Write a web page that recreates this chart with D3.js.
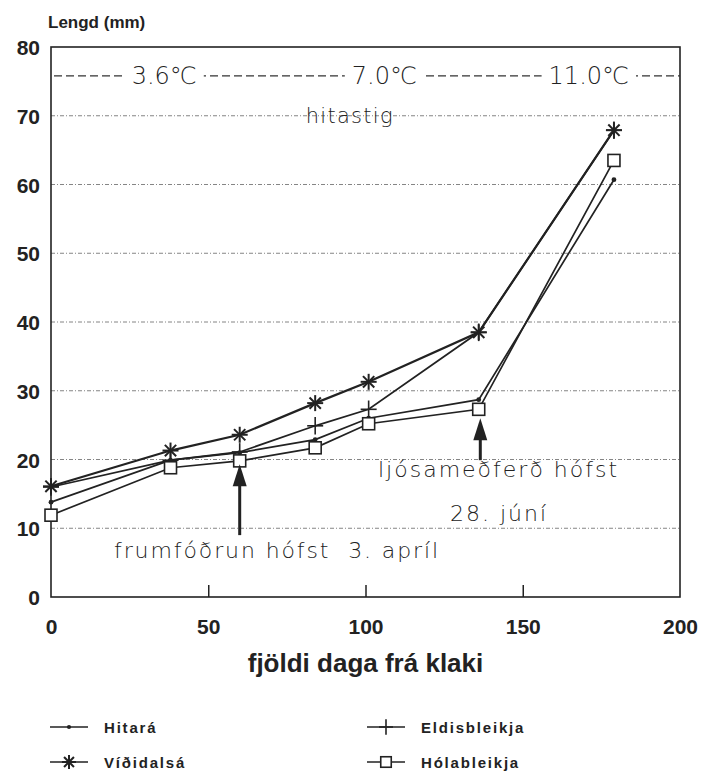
<!DOCTYPE html>
<html>
<head>
<meta charset="utf-8">
<script src="https://cdn.jsdelivr.net/npm/d3@7"></script>
<style>
body { margin:0; background:#fff; }
svg text { fill:#222; }
.bold { font-family:"Liberation Sans", Arial, sans-serif; font-weight:bold; }
.thin { font-family:"DejaVu Sans", sans-serif; font-weight:200; }
</style>
</head>
<body>
<svg id="chart" width="708" height="771"></svg>
<script>
// days from hatching
var days = [0, 38, 60, 84, 101, 136, 179];
var hitara = [13.8, 19.9, 21.0, 22.9, 26.0, 28.7, 60.7];
var vididalsa = [16.1, 21.3, 23.6, 28.2, 31.3, 38.5, 67.9];
var eldisbleikja = [16.0, 19.9, 21.1, 24.9, 27.3, 38.5, 67.9];
var holableikja = [11.9, 18.8, 19.8, 21.7, 25.2, 27.3, 63.5];
var seriesNames = ["Hitará", "Víðidalsá", "Eldisbleikja", "Hólableikja"];
var seriesMarkers = ["dot", "star", "plus", "square"];
var xTicks = [0, 50, 100, 150, 200];
var yTicks = [0, 10, 20, 30, 40, 50, 60, 70, 80];
var tempLabels = ["3.6℃", "7.0℃", "11.0℃"];
var tempLabelDays = [36, 106, 171];
var tempLevel = 75.8;
var arrowDays = [60, 136.5];
var arrowTops = [19.3, 26.0];
var arrowBottoms = [9.0, 19.9];

var svg = d3.select('#chart');
var margin = {left:51, right:28, top:47, bottom:174};
var width = 708 - margin.left - margin.right;
var height = 771 - margin.top - margin.bottom;

var x = d3.scaleLinear().domain([0, 200]).range([0, width]);
var y = d3.scaleLinear().domain([0, 80]).range([height, 0]);

var g = svg.append('g').attr('transform', 'translate('+margin.left+','+margin.top+')');

// grid lines
g.selectAll('line.grid')
	.data(yTicks.filter(function(d){ return d > 0 && d < 80; }))
	.enter().append('line')
	.attr('class', 'grid')
	.attr('x1', 0).attr('x2', width)
	.attr('y1', function(d){ return y(d); })
	.attr('y2', function(d){ return y(d); })
	.attr('stroke', '#666')
	.attr('stroke-width', 0.8)
	.attr('stroke-dasharray', '4,2,1,2');

// frame
g.append('rect')
	.attr('width', width).attr('height', height)
	.attr('fill', 'none').attr('stroke', '#222').attr('stroke-width', 1.6);

// axes
var xAxis = g.append('g').attr('transform', 'translate(0,'+height+')')
	.call(d3.axisBottom(x).tickValues(xTicks).tickSize(-12).tickPadding(22));
xAxis.select('.domain').remove();
xAxis.selectAll('line').attr('stroke', '#222').attr('stroke-width', 1.5)
	.filter(function(d){ return d == 0 || d == 200; }).remove();
xAxis.selectAll('text').attr('class', 'bold').attr('font-size', 21).attr('fill', '#222');

var yAxis = g.append('g')
	.call(d3.axisLeft(y).tickValues(yTicks).tickSize(0).tickPadding(11));
yAxis.select('.domain').remove();
yAxis.selectAll('text').attr('class', 'bold').attr('font-size', 21).attr('fill', '#222')
	.attr('dy', '0.36em');

// titles
svg.append('text').attr('class', 'bold')
	.attr('x', 48).attr('y', 28).attr('font-size', 17)
	.text('Lengd (mm)');
svg.append('text').attr('class', 'bold')
	.attr('x', margin.left + x(100)).attr('y', 672).attr('font-size', 26)
	.attr('text-anchor', 'middle')
	.text('fjöldi daga frá klaki');

// temperature band
var ty = y(tempLevel);
g.append('line')
	.attr('x1', 3).attr('x2', width)
	.attr('y1', ty).attr('y2', ty)
	.attr('stroke', '#333').attr('stroke-width', 1.3)
	.attr('stroke-dasharray', '8,4');
var tempGroup = g.selectAll('g.temp')
	.data(tempLabels).enter().append('g')
	.attr('class', 'temp');
tempGroup.append('rect').attr('fill', '#fff');
tempGroup.append('text')
	.attr('class', 'thin')
	.attr('x', function(d, i){ return x(tempLabelDays[i]); })
	.attr('y', ty + 8)
	.attr('text-anchor', 'middle')
	.attr('font-size', 24)
	.text(function(d){ return d; });
tempGroup.each(function(){
	var box = d3.select(this).select('text').node().getBBox();
	d3.select(this).select('rect')
		.attr('x', box.x - 7).attr('width', box.width + 14)
		.attr('y', ty - 4).attr('height', 8);
});
g.append('text').attr('class', 'thin')
	.attr('x', x(95)).attr('y', y(70) + 7)
	.attr('text-anchor', 'middle').attr('font-size', 21)
	.attr('letter-spacing', 1.3)
	.text('hitastig');

// lines
var allSeries = [hitara, vididalsa, eldisbleikja, holableikja];
var line = d3.line()
	.x(function(d, i){ return x(days[i]); })
	.y(function(d){ return y(d); });

g.selectAll('path.series')
	.data(allSeries).enter().append('path')
	.attr('class', 'series')
	.attr('d', line)
	.attr('fill', 'none')
	.attr('stroke', '#222')
	.attr('stroke-width', function(d, i){ return i == 1 ? 2.2 : 1.7; });

function drawMarker(sel, type, size)
{
	if(type == 'dot')
	{
		sel.append('circle').attr('r', size*0.3).attr('fill', '#222');
	}
	else if(type == 'star')
	{
		var a = [0, 45, 90, 135];
		for(var k=0;k<a.length;k++)
		{
			var r = a[k]*Math.PI/180;
			sel.append('line')
				.attr('x1', -Math.cos(r)*size).attr('y1', -Math.sin(r)*size)
				.attr('x2', Math.cos(r)*size).attr('y2', Math.sin(r)*size)
				.attr('stroke', '#222').attr('stroke-width', 2);
		}
	}
	else if(type == 'plus')
	{
		sel.append('line').attr('x1', 0).attr('x2', 0)
			.attr('y1', -size*1.1).attr('y2', size*1.1)
			.attr('stroke', '#222').attr('stroke-width', 1.6);
		sel.append('line').attr('x1', -size).attr('x2', size)
			.attr('y1', 0).attr('y2', 0)
			.attr('stroke', '#222').attr('stroke-width', 1.6);
	}
	else if(type == 'square')
	{
		sel.append('rect').attr('x', -size*0.75).attr('y', -size*0.75)
			.attr('width', size*1.5).attr('height', size*1.5)
			.attr('fill', '#fff').attr('stroke', '#222').attr('stroke-width', 1.6);
	}
}

// markers: draw plus first so star and square sit above
var order = [2, 0, 1, 3];
for(var o=0;o<order.length;o++)
{
	var si = order[o];
	var pts = g.selectAll('g.m'+si)
		.data(allSeries[si]).enter().append('g')
		.attr('class', 'm'+si)
		.attr('transform', function(d, i){ return 'translate('+x(days[i])+','+y(d)+')'; });
	pts.each(function(){ drawMarker(d3.select(this), seriesMarkers[si], 8); });
}

// arrows
for(var a=0;a<arrowDays.length;a++)
{
	var ax = x(arrowDays[a]);
	var tipY = y(arrowTops[a]);
	var baseY = y(arrowBottoms[a]);
	g.append('line').attr('x1', ax).attr('x2', ax)
		.attr('y1', tipY + 18).attr('y2', baseY)
		.attr('stroke', '#222').attr('stroke-width', 3);
	g.append('path')
		.attr('d', 'M'+ax+','+tipY+' L'+(ax-7)+','+(tipY+22)+' L'+(ax+7)+','+(tipY+22)+' Z')
		.attr('fill', '#222');
}

// annotations
svg.append('text').attr('class', 'thin')
	.attr('x', 114).attr('y', 558).attr('font-size', 22)
	.attr('letter-spacing', 1.9)
	.text('frumfóðrun hófst\u00a0\u00a03. apríl');
svg.append('text').attr('class', 'thin')
	.attr('x', 378).attr('y', 477).attr('font-size', 22)
	.attr('letter-spacing', 2)
	.text('ljósameðferð hófst');
svg.append('text').attr('class', 'thin')
	.attr('x', 450).attr('y', 521).attr('font-size', 22)
	.attr('letter-spacing', 2)
	.text('28. júní');

// legend
var legX = [50, 367];
var legY = [727, 762];
var legend = svg.selectAll('g.legend')
	.data(seriesNames).enter().append('g')
	.attr('class', 'legend')
	.attr('transform', function(d, i){
		return 'translate('+legX[i < 2 ? 0 : 1]+','+legY[i % 2]+')';
	});
legend.append('line')
	.attr('x1', 0).attr('x2', 38)
	.attr('stroke', '#222').attr('stroke-width', 1.6);
legend.each(function(d, i){
	var m = d3.select(this).append('g').attr('transform', 'translate(19,0)');
	drawMarker(m, seriesMarkers[i], 7);
});
legend.append('text').attr('class', 'bold')
	.attr('x', 54).attr('y', 6).attr('font-size', 15)
	.attr('letter-spacing', 1.8)
	.text(function(d){ return d; });
</script>
</body>
</html>
